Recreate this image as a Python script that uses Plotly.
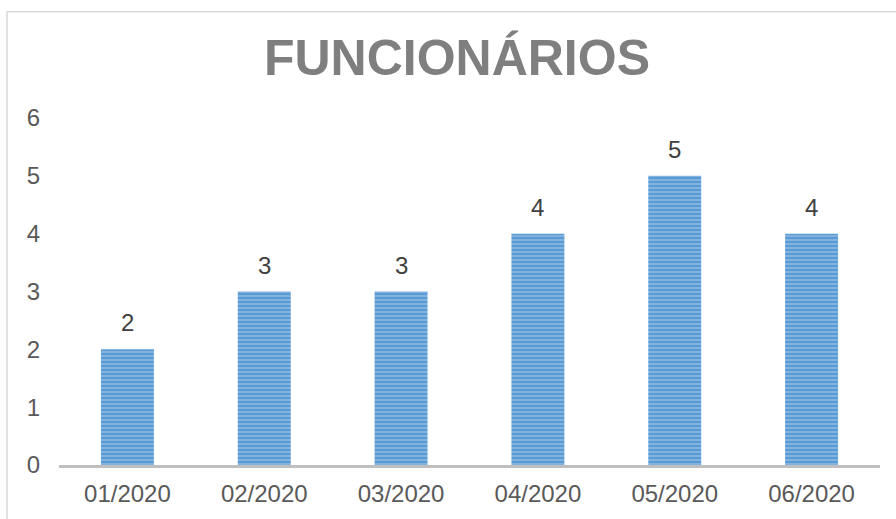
import plotly.graph_objects as go

categories = ["01/2020", "02/2020", "03/2020", "04/2020", "05/2020", "06/2020"]
values = [2, 3, 3, 4, 5, 4]
y_ticks = [0, 1, 2, 3, 4, 5, 6]
title_text = "FUNCIONÁRIOS"

W, H = 896, 519
ml, mr, mt, mb = 59, 16, 118, 48
pw = W - ml - mr
ph = H - mt - mb
FONT = "Liberation Sans, Arial, sans-serif"

fig = go.Figure()
fig.add_trace(go.Bar(
    x=categories,
    y=values,
    marker=dict(
        color="#5B9BD5",
        line=dict(width=0),
        pattern=dict(shape="-", fgcolor="#BDD7EE", bgcolor="#5B9BD5", size=4, solidity=0.4),
    ),
))

for c, v in zip(categories, values):
    fig.add_annotation(
        x=c, y=v, text=str(v), showarrow=False,
        yanchor="bottom", yshift=11,
        font=dict(family=FONT, size=24, color="#404040"),
    )

fig.update_layout(
    width=W, height=H,
    margin=dict(l=ml, r=mr, t=mt, b=mb),
    paper_bgcolor="white",
    plot_bgcolor="white",
    showlegend=False,
    bargap=0.613,
    title=dict(
        text=title_text,
        x=0.51, xref="container", xanchor="center",
        y=1 - 57 / H, yref="container", yanchor="middle",
        font=dict(family=FONT, size=50, color="#7F7F7F", weight="bold"),
    ),
    xaxis=dict(
        showline=True, linecolor="#BFBFBF", linewidth=2.5,
        showgrid=False, ticks="", ticklabelstandoff=5,
        tickfont=dict(family=FONT, size=24, color="#595959"),
    ),
    yaxis=dict(
        range=[0, 6], tickvals=y_ticks, showgrid=False, zeroline=False,
        showline=False, ticks="", ticklabelstandoff=18,
        tickfont=dict(family=FONT, size=24, color="#595959"),
    ),
)

# outer chart frame (light gray), offset from top-left
fig.add_shape(
    type="rect", xref="paper", yref="paper",
    x0=(7 - ml) / pw, x1=1.2,
    y0=-0.5, y1=(H - mb - 10) / ph,
    line=dict(color="#D9D9D9", width=1.5),
    fillcolor="rgba(0,0,0,0)", layer="below",
)

fig.write_html(
    "out.html",
    config={"displayModeBar": False},
    post_script="document.body.style.margin='0';",
)
